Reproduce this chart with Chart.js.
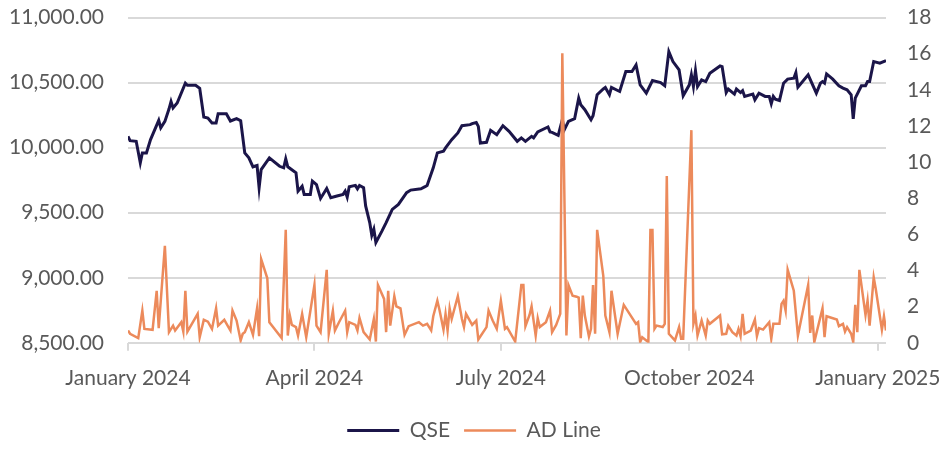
<!DOCTYPE html>
<html><head><meta charset="utf-8">
<script src="https://cdn.jsdelivr.net/npm/chart.js@4.4.1/dist/chart.umd.min.js"></script>
<style>html,body{margin:0;padding:0;background:#fff}#wrap{width:948px;height:451px;position:relative}</style>
</head><body><div id="wrap"><canvas id="c"></canvas></div>
<script>
// x values are days since 1 January 2024
const qseDay = [0,1,4,6,7,9,11,15,16,18,20,21,22,24,28,29,33,35,37,39,41,43,44,48,50,53,55,57,59,61,63,64,65,69,74,76,77,78,82,83,85,86,89,90,92,94,97,99,102,105,106,107,108,111,112,113,115,116,118,119,120,121,124,126,129,132,136,138,143,145,146,149,151,154,155,158,161,163,167,168,170,171,172,175,177,180,183,186,190,192,194,197,198,200,205,206,207,210,212,213,215,218,220,221,223,226,227,229,232,233,235,236,240,243,246,248,250,253,256,260,262,264,266,269,271,274,275,276,277,278,280,282,284,289,290,292,293,296,297,299,300,301,305,306,308,311,313,314,315,316,318,320,322,325,326,327,332,336,338,339,340,341,344,347,349,351,353,354,355,358,360,361,362,364,367,370];
const qseValue = [10087,10054,10049,9884,9960,9960,10062,10210,10152,10202,10297,10355,10305,10343,10496,10480,10480,10457,10236,10228,10190,10190,10261,10261,10205,10223,10207,9960,9922,9853,9863,9692,9832,9922,9857,9845,9914,9853,9807,9666,9704,9641,9641,9743,9717,9610,9687,9615,9628,9641,9666,9620,9700,9710,9684,9710,9692,9552,9424,9327,9373,9271,9360,9424,9526,9564,9654,9674,9684,9700,9710,9845,9960,9972,9998,10062,10113,10169,10177,10185,10194,10164,10036,10041,10133,10100,10169,10126,10049,10075,10049,10087,10075,10121,10159,10121,10118,10095,10215,10138,10202,10223,10381,10330,10292,10215,10246,10407,10451,10463,10407,10463,10432,10585,10585,10636,10483,10419,10516,10500,10476,10738,10662,10598,10399,10483,10560,10470,10592,10470,10521,10508,10572,10628,10623,10424,10451,10412,10451,10424,10439,10394,10412,10368,10419,10394,10394,10338,10394,10373,10363,10496,10527,10534,10577,10465,10560,10419,10496,10508,10496,10567,10527,10476,10458,10445,10407,10221,10381,10476,10476,10508,10508,10662,10650,10670];
const adDay = [0,1,5,7,8,12,14,15,18,20,22,23,26,27,28,29,34,35,37,39,41,43,44,47,50,51,53,55,56,57,59,61,63,64,65,68,69,75,77,78,79,80,82,83,85,87,91,92,94,97,98,100,101,103,106,107,108,111,112,113,115,118,120,121,122,125,126,127,128,130,131,133,135,137,142,144,146,148,149,151,152,154,155,156,157,158,161,163,164,165,168,170,171,175,176,178,180,182,184,185,189,192,193,194,196,197,199,200,201,204,206,207,209,211,212,214,215,217,219,220,221,222,223,225,226,227,228,229,232,233,235,236,239,242,248,249,250,251,253,254,255,256,257,258,261,262,263,264,267,269,270,271,275,276,277,278,280,282,283,284,289,290,292,293,295,297,298,299,300,301,304,306,307,308,310,313,314,315,318,319,320,321,322,325,327,332,333,334,335,339,340,341,346,347,349,350,351,353,354,355,356,357,360,361,362,364,365,368,369,370];
const adValue = [0.68,0.5,0.26,1.78,0.77,0.72,2.88,0.81,5.37,0.59,0.95,0.68,1.14,0.62,2.88,0.62,1.6,0.31,1.27,1.17,0.77,1.91,0.95,1.27,0.68,1.78,1.23,0.13,0.5,0.59,1.14,0.44,1.91,0.37,4.63,3.57,1.14,0.26,6.25,0.4,1.51,0.99,0.87,0.4,1.6,0.31,3.2,0.95,0.59,4.04,0.5,1.78,0.68,1.14,1.78,0.59,1.14,0.99,0.68,1.38,0.59,0.18,1.32,0.07,3.2,2.43,0.59,2.88,0.95,2.58,2.02,1.91,0.44,0.92,1.14,0.95,1.05,0.68,1.47,2.33,1.84,0.73,1.6,0.68,1.91,1.32,2.58,1.32,0.87,1.6,0.99,1.23,0.18,0.87,1.78,1.23,0.77,2.33,0.77,0.87,0.07,3.2,3.2,0.92,1.54,2.02,0.4,1.36,0.87,1.14,1.78,0.59,0.99,1.6,16.03,0.4,3.2,2.61,2.55,2.5,0.26,2.61,1.51,0.35,0.77,3.2,0.5,6.25,3.71,1.51,0.59,2.88,0.5,2.1,1.05,1.14,0.04,0.31,0.13,0.04,6.25,6.25,0.77,0.95,0.87,1.05,9.23,0.5,0.13,0.87,0.22,0.22,11.77,1.05,1.51,0.4,1.23,0.4,1.23,1.05,1.51,0.47,0.5,0.95,0.59,0.4,0.77,0.37,1.6,0.5,0.68,1.29,0.37,0.81,0.73,1.14,0.22,1.05,1.05,2.15,2.33,1.78,4.04,2.88,0.4,3.2,0.55,1.51,0.04,1.91,0.31,1.47,1.29,0.92,1.05,0.62,0.87,0.5,0.04,2.1,0.59,4.04,1.54,2.33,0.95,3.62,2.98,0.73,1.47,0.68];
const xTickDays = [0, 91, 182, 274, 366];
const xTickLabels = ['January 2024', 'April 2024', 'July 2024', 'October 2024', 'January 2025'];
const seriesNames = ['QSE', 'AD Line'];

const FONT = 'Lato, "Open Sans", sans-serif';
const TXT = '#595959';
const GRID = '#D9D9D9';
const FS = 21;
const pts = (xs, ys) => xs.map((d, i) => ({x: d, y: ys[i]}));

new Chart(document.getElementById('c'), {
  type: 'line',
  data: {
    datasets: [
      {label: seriesNames[0], data: pts(qseDay, qseValue), yAxisID: 'y', borderColor: '#1B1549', backgroundColor: '#1B1549', borderWidth: 3, pointRadius: 0, tension: 0, order: 1},
      {label: seriesNames[1], data: pts(adDay, adValue), yAxisID: 'y1', borderColor: '#EC8A5B', backgroundColor: '#EC8A5B', borderWidth: 2.5, pointRadius: 0, tension: 0, order: 0}
    ]
  },
  options: {
    responsive: true, maintainAspectRatio: false, animation: false,
    layout: {padding: {top: 0, bottom: 0, left: 0, right: 0}},
    plugins: {
      tooltip: {enabled: false},
      legend: {
        position: 'bottom',
        labels: {font: {family: FONT, size: FS}, color: TXT, usePointStyle: true, pointStyle: 'line', pointStyleWidth: 52, boxHeight: 20, padding: 14,
          sort: (a, b) => a.datasetIndex - b.datasetIndex}
      }
    },
    scales: {
      x: {
        type: 'linear', min: 0, max: 370,
        afterBuildTicks: s => { s.ticks = xTickDays.map(v => ({value: v})); },
        ticks: {font: {family: FONT, size: FS}, color: TXT, maxRotation: 0, autoSkip: false, padding: 15,
          callback: (v) => xTickLabels[xTickDays.indexOf(v)]},
        grid: {drawOnChartArea: false, drawTicks: true, tickLength: 8, color: GRID, lineWidth: 2},
        border: {display: false},
        afterFit: s => { s.paddingLeft = 0; s.paddingRight = 0; }
      },
      y: {
        position: 'left', min: 8500, max: 11000,
        ticks: {stepSize: 500, font: {family: FONT, size: FS}, color: TXT, padding: 5,
          callback: v => v.toLocaleString('en-US', {minimumFractionDigits: 2, maximumFractionDigits: 2})},
        grid: {color: GRID, lineWidth: 2, drawTicks: true, tickLength: 19, tickColor: 'rgba(0,0,0,0)'},
        border: {display: false},
        afterFit: s => { s.width = 128; }
      },
      y1: {
        position: 'right', min: 0, max: 18,
        ticks: {stepSize: 2, font: {family: FONT, size: FS}, color: TXT, padding: 5},
        grid: {display: true, drawOnChartArea: false, drawTicks: true, tickLength: 16, tickColor: 'rgba(0,0,0,0)'},
        border: {display: false},
        afterFit: s => { s.width = 62; }
      }
    }
  }
});
</script>
</body></html>
